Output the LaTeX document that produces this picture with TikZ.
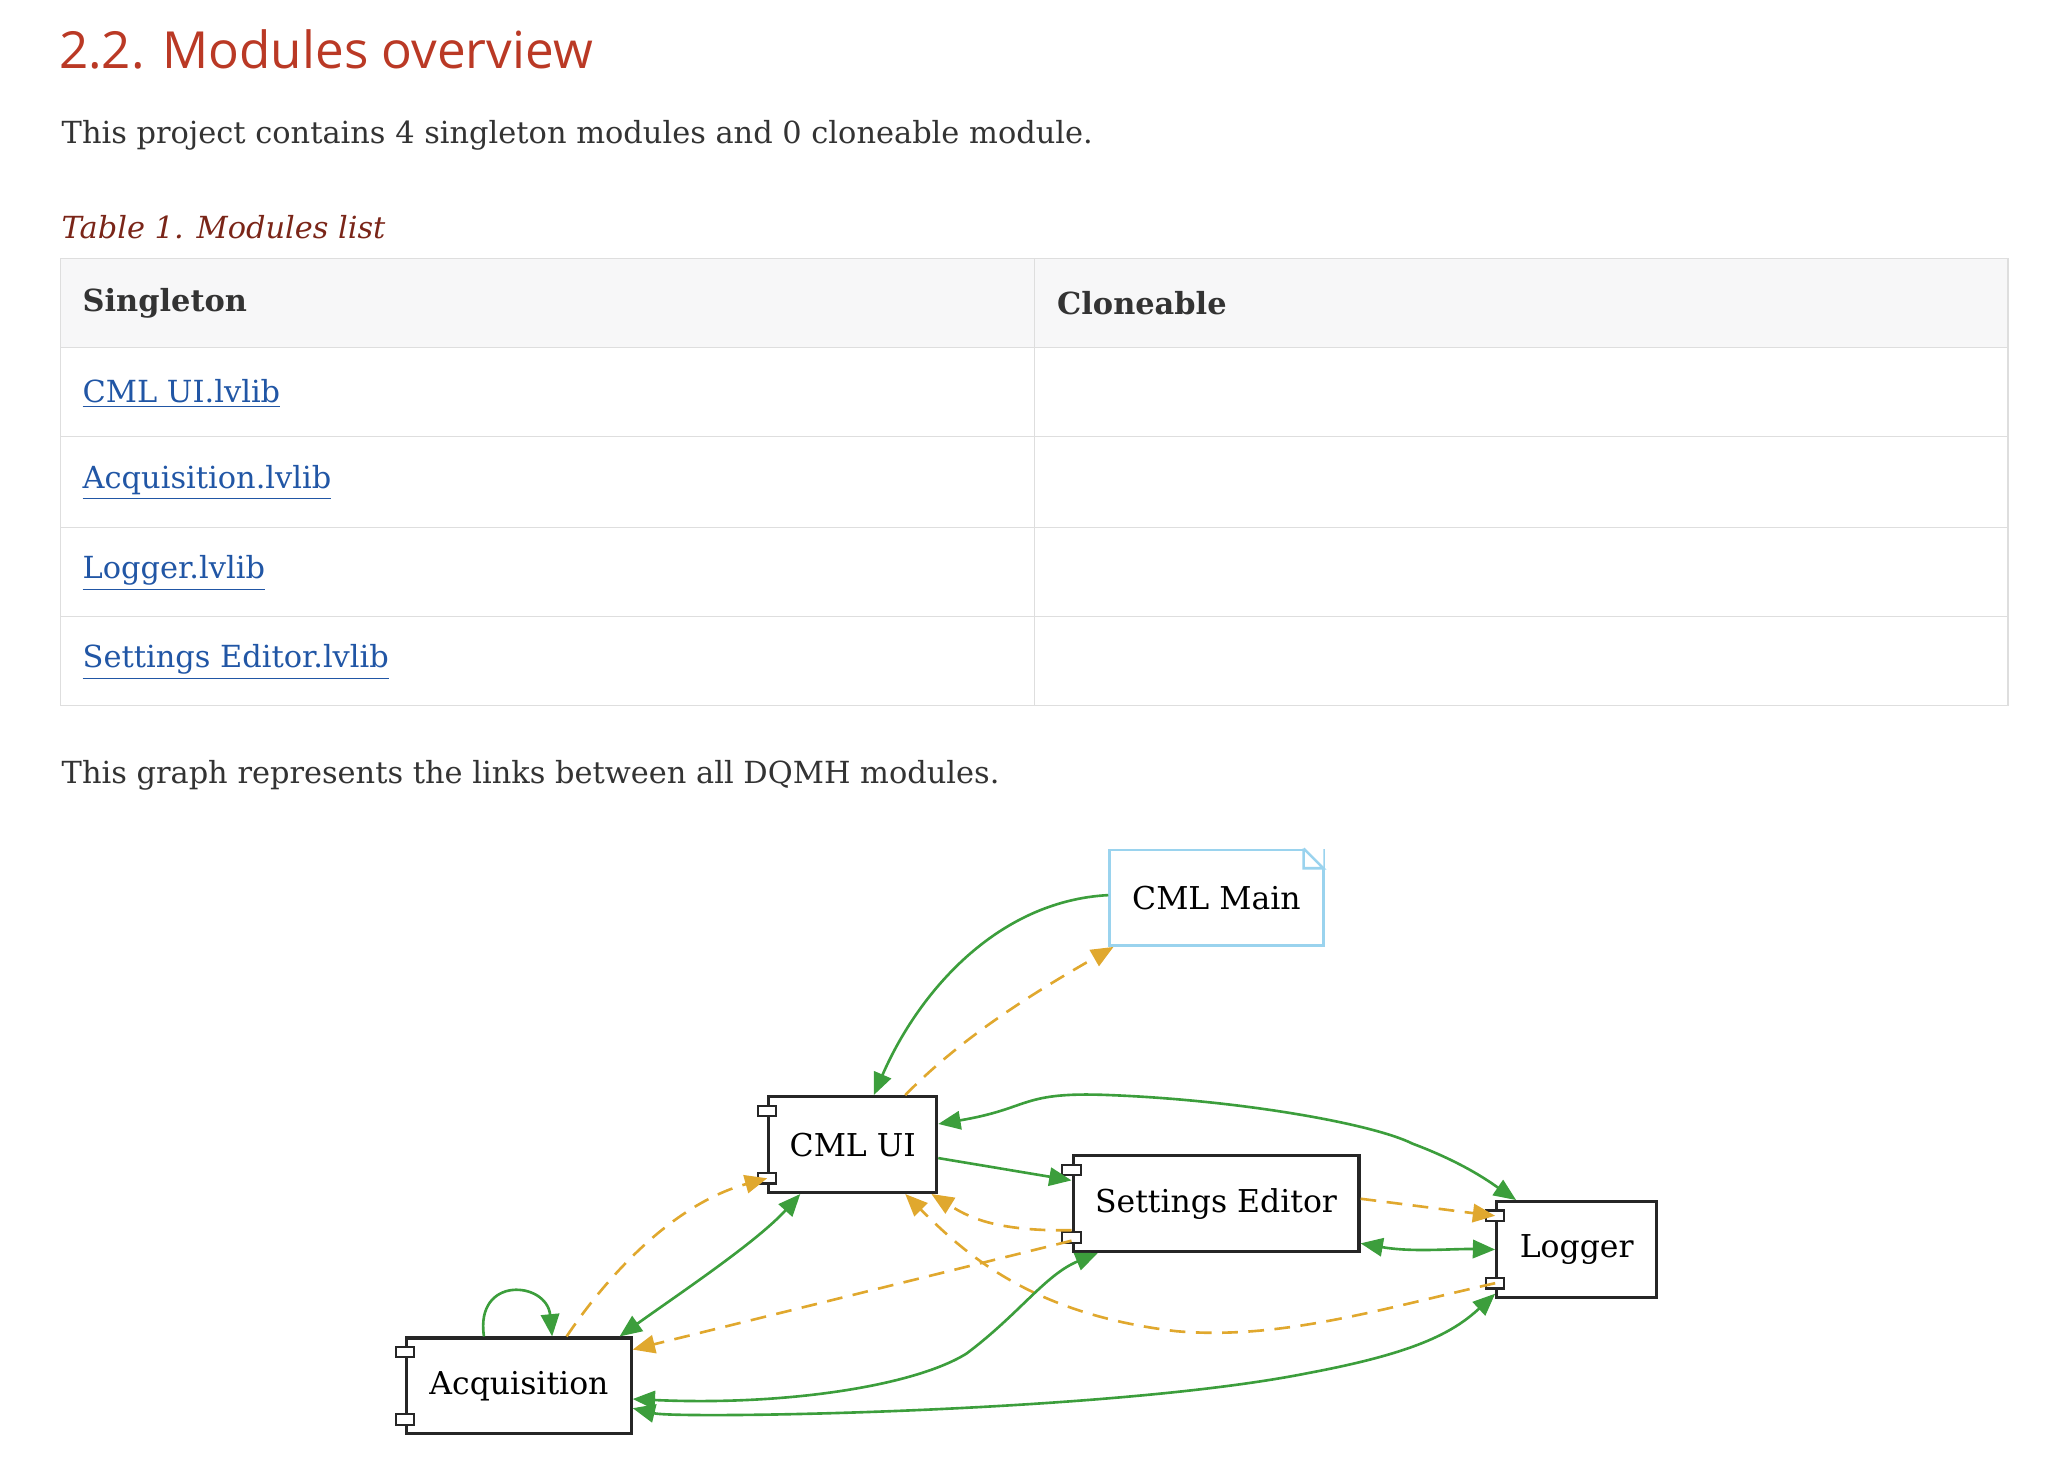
\documentclass[tikz,border=0pt]{standalone}
\usepackage{fontspec}
\setmainfont{DejaVu Serif}
\newfontfamily\headfont{Open Sans}
\usetikzlibrary{positioning,arrows.meta,shapes}
\definecolor{headred}{HTML}{BA3925}
\definecolor{capred}{HTML}{7A2518}
\definecolor{linkblue}{HTML}{2156A5}
\definecolor{rowgray}{HTML}{F7F7F8}
\definecolor{linegray}{HTML}{DEDEDE}
\definecolor{txt}{HTML}{333333}
\definecolor{dep}{HTML}{3C9E3C}
\definecolor{req}{HTML}{E0A82E}
\definecolor{noteblue}{HTML}{9AD3EE}
\tikzset{
  comp/.style={draw=black!85, line width=1.2pt, minimum height=36.5pt, inner sep=0pt, font=\fontsize{12}{14}\selectfont},
  port/.style={draw=black!85, fill=white, line width=0.8pt, minimum width=7pt, minimum height=4pt, inner sep=0pt},
  solid link/.style={dep, line width=1pt},
  dash link/.style={req, line width=1pt, dash pattern=on 6pt off 4pt},
  body/.style={anchor=west, text=txt, font=\fontsize{11.6}{13}\selectfont},
  lnk/.style={anchor=west, text=linkblue, font=\fontsize{11.6}{13}\selectfont}
}
\begin{document}
\begin{tikzpicture}[x=0.5pt,y=-0.5pt,>={Triangle[length=8.5pt,width=7pt]}]
\useasboundingbox (0,0) rectangle (1560,1122);
% header and text
\node[anchor=base west, text=headred, font=\headfont\fontsize{19.5}{24}\selectfont] (title) at (38,52) {2.2. Modules overview};
\node[body] (intro) at (40,103) {This project contains 4 singleton modules and 0 cloneable module.};
\node[body, text=capred, font=\itshape\fontsize{11.6}{13}\selectfont] (caption) at (40,173) {Table 1. Modules list};
% table
\fill[rowgray] (46,197) rectangle (1531,265);
\draw[linegray] (46,197) rectangle (1531,538);
\foreach \y in {265,333,402,470}
  \draw[linegray] (46,\y) -- (1531,\y);
\draw[linegray] (789,197) -- (789,538);
\node[body, font=\bfseries\fontsize{11.6}{13}\selectfont] (hsing) at (56,231) {Singleton};
\node[body, font=\bfseries\fontsize{11.6}{13}\selectfont] (hclone) at (799,231) {Cloneable};
\node[lnk] (l1) at (56,300) {\underline{CML UI.lvlib}};
\node[lnk] (l2) at (56,368) {\underline{Acquisition.lvlib}};
\node[lnk] (l3) at (56,437) {\underline{Logger.lvlib}};
\node[lnk] (l4) at (56,505) {\underline{Settings Editor.lvlib}};
\node[body] (graphtxt) at (40,591) {This graph represents the links between all DQMH modules.};
% diagram nodes
\node[draw=noteblue, line width=1pt, minimum width=81.5pt, minimum height=36.5pt, inner sep=0pt, font=\fontsize{12}{14}\selectfont, anchor=north west] (cmlmain) at (845,647) {CML Main};
\fill[white] (994,647) -- (1009,647) -- (1009,662) -- cycle;
\draw[noteblue, line width=1pt] (994,647) -- (994,662) -- (1009,662) -- (994,647);
\node[comp, minimum width=64pt, anchor=north west] (cmlui) at (585,835) {CML UI};
\node[comp, minimum width=109pt, anchor=north west] (settings) at (817,880) {Settings Editor};
\node[comp, minimum width=61pt, anchor=north west] (logger) at (1140,915) {Logger};
\node[comp, minimum width=85.5pt, anchor=north west] (acq) at (309,1019) {Acquisition};
\foreach \n in {cmlui,settings,logger,acq} {
  \node[port] at ([yshift=-6pt]\n.north west) {};
  \node[port] at ([yshift=6pt]\n.south west) {};
}
% links
\draw[solid link,->] (cmlmain.west) ++(0,-2) .. controls (760,687) and (700,757) .. ([xshift=8pt]cmlui.north);
\draw[dash link,->] ([xshift=20pt]cmlui.north) .. controls (737,787) and (797,752) .. ([xshift=2pt]cmlmain.south west);
\draw[solid link,<->] ([yshift=-11pt]cmlui.north east) .. controls (787,845) and (777,832) .. (847,835) .. controls (947,839) and (1047,857) .. (1077,872) .. controls (1117,887) and (1137,902) .. ([xshift=8pt]logger.north west);
\draw[solid link,->] ([yshift=-24pt]cmlui.north east) -- ([yshift=-10pt]settings.north west);
\draw[dash link,->] ([yshift=-17pt]settings.north east) .. controls (1077,919) and (1107,923) .. ([yshift=-6pt]logger.north west);
\draw[solid link,<->] ([yshift=-34pt]settings.north east) .. controls (1077,955) and (1107,952) .. (logger.west);
\draw[dash link,->] ([yshift=-29pt]settings.north west) .. controls (757,939) and (737,927) .. ([xshift=30pt]cmlui.south);
\draw[dash link,->] ([yshift=-33pt]settings.north west) -- ([yshift=-5pt]acq.north east);
\draw[dash link,->] ([yshift=6pt]logger.south west) .. controls (1057,997) and (977,1022) .. (897,1015) .. controls (787,1002) and (737,957) .. ([xshift=20pt]cmlui.south);
\draw[dash link,->] ([xshift=61.5pt]acq.north west) .. controls (467,967) and (517,917) .. ([yshift=6pt]cmlui.south west);
\draw[solid link,<->] ([xshift=-5pt]acq.north east) .. controls (517,987) and (577,947) .. ([xshift=-20pt]cmlui.south);
\draw[solid link,->] ([xshift=30pt]acq.north west) .. controls (362,972) and (417,977) .. ([xshift=56pt]acq.north west);
\draw[solid link,<->] ([yshift=-5pt]acq.east) .. controls (597,1072) and (697,1057) .. (737,1032) .. controls (777,1002) and (797,972) .. ([xshift=10pt]settings.south west);
\draw[solid link,<->] ([yshift=-8.5pt]acq.east) .. controls (517,1082) and (847,1077) .. (997,1047) .. controls (1077,1032) and (1107,1017) .. ([yshift=2pt]logger.south west);
\end{tikzpicture}
\end{document}
